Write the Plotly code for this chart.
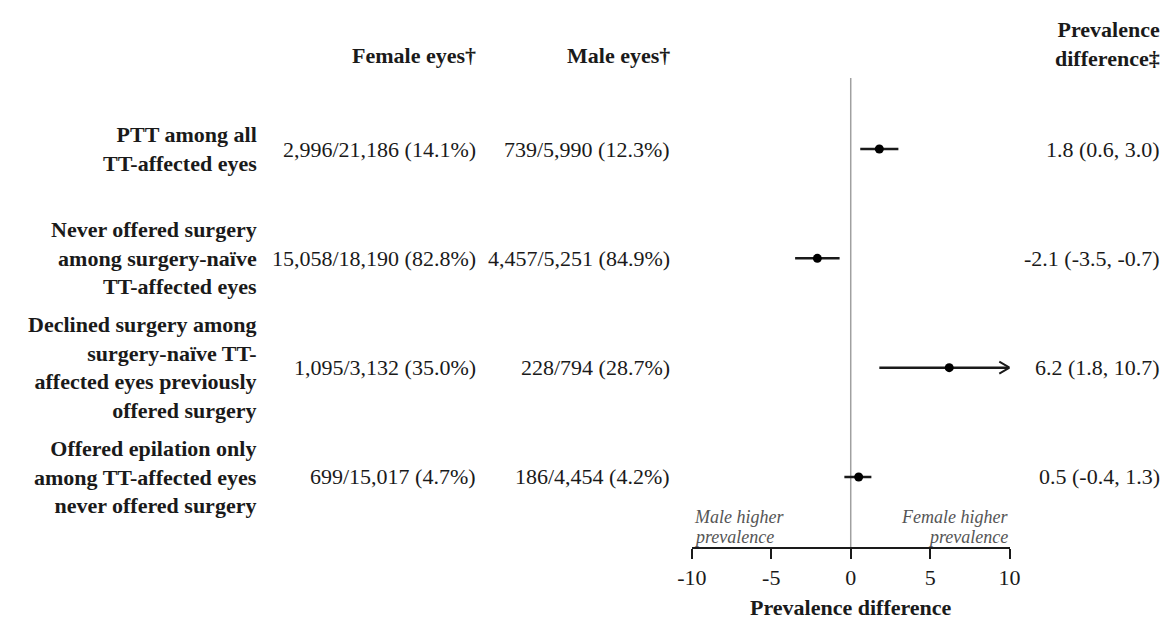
import plotly.graph_objects as go

# ---- data ----
outcomes = [
    "PTT among all<br>TT-affected eyes",
    "Never offered surgery<br>among surgery-naïve<br>TT-affected eyes",
    "Declined surgery among<br>surgery-naïve TT-<br>affected eyes previously<br>offered surgery",
    "Offered epilation only<br>among TT-affected eyes<br>never offered surgery",
]
female_eyes = ["2,996/21,186 (14.1%)", "15,058/18,190 (82.8%)", "1,095/3,132 (35.0%)", "699/15,017 (4.7%)"]
male_eyes = ["739/5,990 (12.3%)", "4,457/5,251 (84.9%)", "228/794 (28.7%)", "186/4,454 (4.2%)"]
pd_est = [1.8, -2.1, 6.2, 0.5]
pd_lo = [0.6, -3.5, 1.8, -0.4]
pd_hi = [3.0, -0.7, 10.7, 1.3]
x_ticks = [-10, -5, 0, 5, 10]
x_min, x_max = -10, 10

W, H = 1172, 621
FONT = "Liberation Serif, Times New Roman, serif"
INK = "#1a1a1a"

row_px0, row_step = 141, 109.33
def py(p):  # pixel y -> paper
    return 1 - p / H
def px(p):
    return p / W

y_top = -row_px0 / row_step
y_bot = (H - row_px0) / row_step

fig = go.Figure()
rows = list(range(len(outcomes)))

for i in rows:
    hi = min(pd_hi[i], x_max)
    fig.add_trace(go.Scatter(x=[pd_lo[i], hi], y=[i, i], mode="lines",
                             line=dict(color=INK, width=2.5), showlegend=False, hoverinfo="skip"))
    if pd_hi[i] > x_max:
        dx = 0.65
        dy = 6 / row_step
        fig.add_trace(go.Scatter(x=[x_max - dx, x_max, x_max - dx], y=[i - dy, i, i + dy], mode="lines",
                                 line=dict(color=INK, width=2), showlegend=False, hoverinfo="skip"))

fig.add_trace(go.Scatter(x=pd_est, y=rows, mode="markers",
                         marker=dict(color="black", size=9), showlegend=False, hoverinfo="skip"))

fig.add_shape(type="line", xref="x", yref="paper", x0=0, x1=0, y0=py(540), y1=py(70),
              line=dict(color="#a0a0a0", width=1.5), layer="below")

COL_LABEL, COL_F, COL_M, COL_PD = 241, 465, 664, 1165

ann = []
ann.append(dict(text="<b>Female eyes†</b>", x=px(COL_F), y=py(47), xanchor="right", yanchor="middle",
                font=dict(size=22)))
ann.append(dict(text="<b>Male eyes†</b>", x=px(COL_M), y=py(47), xanchor="right", yanchor="middle",
                font=dict(size=22)))
ann.append(dict(text="<b>Prevalence<br>difference‡</b>", x=px(COL_PD), y=py(36), xanchor="right",
                yanchor="middle", align="right", font=dict(size=22)))

for i in rows:
    ann.append(dict(text="<b>" + outcomes[i] + "</b>", x=px(COL_LABEL), xref="paper", y=i, yref="y",
                    xanchor="right", yanchor="middle", align="right", font=dict(size=22)))
    ann.append(dict(text=female_eyes[i], x=px(COL_F), xref="paper", y=i, yref="y",
                    xanchor="right", yanchor="middle", font=dict(size=22)))
    ann.append(dict(text=male_eyes[i], x=px(COL_M), xref="paper", y=i, yref="y",
                    xanchor="right", yanchor="middle", font=dict(size=22)))
    ann.append(dict(text=f"{pd_est[i]} ({pd_lo[i]}, {pd_hi[i]})", x=px(COL_PD), xref="paper", y=i, yref="y",
                    xanchor="right", yanchor="middle", font=dict(size=22)))

GREY = "#555555"
ann.append(dict(text="<i>Male higher</i>", x=x_min, xref="x", y=py(509), xanchor="left", yanchor="middle",
                font=dict(size=18, color=GREY)))
ann.append(dict(text="<i>prevalence</i>", x=x_min, xref="x", y=py(529), xanchor="left", yanchor="middle",
                font=dict(size=18, color=GREY)))
ann.append(dict(text="<i>Female higher</i>", x=x_max, xref="x", y=py(509), xanchor="right", yanchor="middle",
                font=dict(size=18, color=GREY)))
ann.append(dict(text="<i>prevalence</i>", x=x_max, xref="x", y=py(529), xanchor="right", yanchor="middle",
                font=dict(size=18, color=GREY)))
ann.append(dict(text="<b>Prevalence difference</b>", x=0, xref="x", y=py(599), xanchor="center",
                yanchor="middle", font=dict(size=22)))

for a in ann:
    a.setdefault("xref", "paper")
    a.setdefault("yref", "paper")
    a["showarrow"] = False
    a["font"].setdefault("color", INK)
    a["font"]["family"] = FONT

fig.update_layout(
    width=W, height=H,
    margin=dict(l=0, r=0, t=0, b=0),
    paper_bgcolor="white", plot_bgcolor="white",
    font=dict(family=FONT, color=INK),
    annotations=ann,
    xaxis=dict(domain=[px(684), px(1009)], range=[x_min, x_max], anchor="free", position=py(540),
               showline=True, linecolor=INK, linewidth=2, ticks="outside", ticklen=10, tickwidth=2,
               tickcolor=INK, tickvals=x_ticks, ticktext=[str(t) for t in x_ticks],
               tickfont=dict(size=22, family=FONT, color=INK), showgrid=False, zeroline=False),
    yaxis=dict(domain=[0, 1], range=[y_bot, y_top], visible=False, showgrid=False, zeroline=False),
)

fig.write_html("out.html")
